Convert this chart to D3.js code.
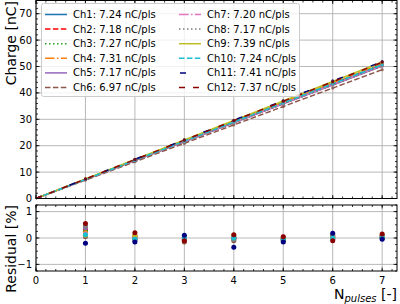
<!DOCTYPE html>
<html>
<head>
<meta charset="utf-8">
<script src="https://cdn.jsdelivr.net/npm/d3@7"></script>
<style>
  body { margin: 0; background: #fff; }
  text { font-family: "DejaVu Sans", sans-serif; }
</style>
</head>
<body>
<div id="chart"></div>
<script>
// channel data
const channels = ["Ch1", "Ch2", "Ch3", "Ch4", "Ch5", "Ch6", "Ch7", "Ch8", "Ch9", "Ch10", "Ch11", "Ch12"];
const slopes = [7.24, 7.18, 7.27, 7.31, 7.17, 6.97, 7.20, 7.17, 7.39, 7.24, 7.41, 7.37];
const colors = ["#1f77b4", "#ff0000", "#22a022", "#ff7f0e", "#9467bd", "#8c564b",
                "#e377c2", "#7f7f7f", "#bcbd22", "#17becf", "#000080", "#8b0000"];
const dashes = ["none", "5.5,2.4", "1.5,2.5", "9.6,2.4,1.5,2.4", "none", "5.5,2.4",
                "9.6,2.4,1.5,2.4", "1.5,2.5", "none", "5.5,2.4", "6,30", "6,8"];
const nPulses = [1, 2, 3, 4, 5, 6, 7];
// residuals [%] per channel, one value per pulse count
const residuals = [
  [0.30, -0.05, -0.10, 0.00, -0.05, -0.05, 0.00],
  [0.35, 0.05, -0.05, 0.00, -0.05, 0.05, 0.05],
  [0.25, 0.00, 0.00, 0.05, -0.10, 0.00, 0.00],
  [0.20, 0.10, -0.10, -0.05, 0.00, 0.10, 0.10],
  [0.40, -0.05, 0.05, 0.00, -0.05, -0.05, 0.05],
  [0.05, -0.10, -0.15, -0.10, -0.10, 0.05, 0.00],
  [0.15, 0.05, 0.00, 0.05, 0.05, -0.05, 0.10],
  [0.45, 0.00, -0.05, -0.05, 0.00, 0.10, 0.05],
  [0.10, 0.10, 0.05, 0.10, 0.00, 0.00, 0.10],
  [0.12, -0.05, 0.00, 0.00, -0.05, 0.00, 0.05],
  [-0.20, -0.15, 0.10, -0.35, -0.15, 0.18, -0.05],
  [0.55, 0.20, -0.10, 0.12, 0.05, -0.10, 0.15]
];
const xTicks = [0, 1, 2, 3, 4, 5, 6, 7];
const yTicks = [0, 10, 20, 30, 40, 50, 60, 70];
const rTicks = [-1, 0, 1];

const W = 400, H = 304;
const svg = d3.select("#chart").append("svg")
  .attr("width", W).attr("height", H);

const x = d3.scaleLinear().domain([0, 7.3]).range([36, 397]);
const y = d3.scaleLinear().domain([0, 75]).range([198.5, 0.5]);
const yr = d3.scaleLinear().domain([-1.25, 1.25]).range([271, 205]);

// draws grid, ticks (inward on all four sides) and frame for one panel
function panel(ys, majors, minorStep, showX) {
  const [x0, x1] = x.range();
  const [yb, yt] = ys.range();
  const g = svg.append("g");
  g.selectAll(".gx").data(xTicks).join("line")
    .attr("x1", d => x(d)).attr("x2", d => x(d)).attr("y1", yb).attr("y2", yt)
    .attr("stroke", "#b0b0b0").attr("stroke-width", 0.9);
  g.selectAll(".gy").data(majors).join("line")
    .attr("x1", x0).attr("x2", x1).attr("y1", d => ys(d)).attr("y2", d => ys(d))
    .attr("stroke", "#b0b0b0").attr("stroke-width", 0.9);

  const xMinor = d3.range(0, 7.3, 0.2);
  const yMinor = d3.range(ys.domain()[0], ys.domain()[1] + 1e-9, minorStep);
  const tk = svg.append("g").attr("stroke", "#000").attr("stroke-width", 0.8);
  [[xMinor, 2], [xTicks, 3.5]].forEach(([arr, len]) => {
    tk.selectAll(null).data(arr).join("line")
      .attr("x1", d => x(d)).attr("x2", d => x(d)).attr("y1", yb).attr("y2", yb - len);
    tk.selectAll(null).data(arr).join("line")
      .attr("x1", d => x(d)).attr("x2", d => x(d)).attr("y1", yt).attr("y2", yt + len);
  });
  [[yMinor, 2], [majors, 3.5]].forEach(([arr, len]) => {
    tk.selectAll(null).data(arr).join("line")
      .attr("x1", x0).attr("x2", x0 + len).attr("y1", d => ys(d)).attr("y2", d => ys(d));
    tk.selectAll(null).data(arr).join("line")
      .attr("x1", x1).attr("x2", x1 - len).attr("y1", d => ys(d)).attr("y2", d => ys(d));
  });

  svg.append("g").selectAll("text").data(majors).join("text")
    .attr("x", x0 - 4).attr("y", d => ys(d)).attr("dy", "0.35em")
    .attr("text-anchor", "end").attr("font-size", 10)
    .text(d => d3.format("")(d).replace("-", "\u2212"));
  if (showX) {
    svg.append("g").selectAll("text").data(xTicks).join("text")
      .attr("x", d => x(d)).attr("y", yb + 12.5)
      .attr("text-anchor", "middle").attr("font-size", 10)
      .text(d => d);
  }
  return g;
}

panel(y, yTicks, 2, false);
panel(yr, rTicks, 0.25, true);

// fit lines through origin
const line = d3.line().x(d => x(d[0])).y(d => y(d[1]));
const lines = svg.append("g");
channels.forEach((c, i) => {
  const pts = [0].concat(nPulses).map(n => [n, slopes[i] * n]);
  lines.append("path").datum(pts)
    .attr("d", line).attr("fill", "none")
    .attr("stroke", colors[i]).attr("stroke-width", 1.5)
    .attr("stroke-dasharray", dashes[i]);
});

// measured points in top panel and residuals in bottom panel
channels.forEach((c, i) => {
  const pts = nPulses.map((n, j) => ({ n, r: residuals[i][j], q: slopes[i] * n * (1 + residuals[i][j] / 100) }));
  svg.append("g").selectAll("circle").data(pts).join("circle")
    .attr("cx", d => x(d.n)).attr("cy", d => y(d.q)).attr("r", 1.6)
    .attr("fill", colors[i]).attr("opacity", 0.8);
  svg.append("g").selectAll("circle").data(pts).join("circle")
    .attr("cx", d => x(d.n)).attr("cy", d => yr(d.r)).attr("r", 2.5)
    .attr("fill", colors[i]);
});

// frames
[[y, 0.5, 198.5], [yr, 205, 271]].forEach(([s, t, b]) => {
  svg.append("rect").attr("x", 36).attr("y", t).attr("width", 361).attr("height", b - t)
    .attr("fill", "none").attr("stroke", "#000").attr("stroke-width", 1);
});

// legend
const leg = svg.append("g");
leg.append("rect").attr("x", 41.5).attr("y", 3.5).attr("width", 258).attr("height", 93)
  .attr("rx", 2).attr("fill", "#fff").attr("fill-opacity", 0.8)
  .attr("stroke", "#cccccc").attr("stroke-width", 1);
channels.forEach((c, i) => {
  const col = Math.floor(i / 6), row = i % 6;
  const hx = col === 0 ? 45 : 179;
  const ty = 14.5 + row * 14.6;
  leg.append("line").attr("x1", hx).attr("x2", hx + 22).attr("y1", ty).attr("y2", ty)
    .attr("stroke", colors[i]).attr("stroke-width", 1.5)
    .attr("stroke-dasharray", dashes[i] === "6,30" ? "0,1,6,30" : dashes[i]);
  leg.append("text").attr("x", hx + 28).attr("y", ty).attr("dy", "0.35em")
    .attr("font-size", 10).text(`${c}: ${slopes[i].toFixed(2)} nC/pls`);
});

// axis labels
svg.append("text").attr("transform", "translate(16,1) rotate(-90)")
  .attr("text-anchor", "end").attr("font-size", 14).text("Charge [nC]");
svg.append("text").attr("transform", "translate(16,205) rotate(-90)")
  .attr("text-anchor", "end").attr("font-size", 14).text("Residual [%]");
const xl = svg.append("text").attr("x", 397).attr("y", 299).attr("text-anchor", "end").attr("font-size", 14);
xl.append("tspan").text("N");
xl.append("tspan").attr("font-size", 10).attr("font-style", "italic").attr("dy", 3).text("pulses");
xl.append("tspan").attr("dy", -3).text(" [-]");
</script>
</body>
</html>
